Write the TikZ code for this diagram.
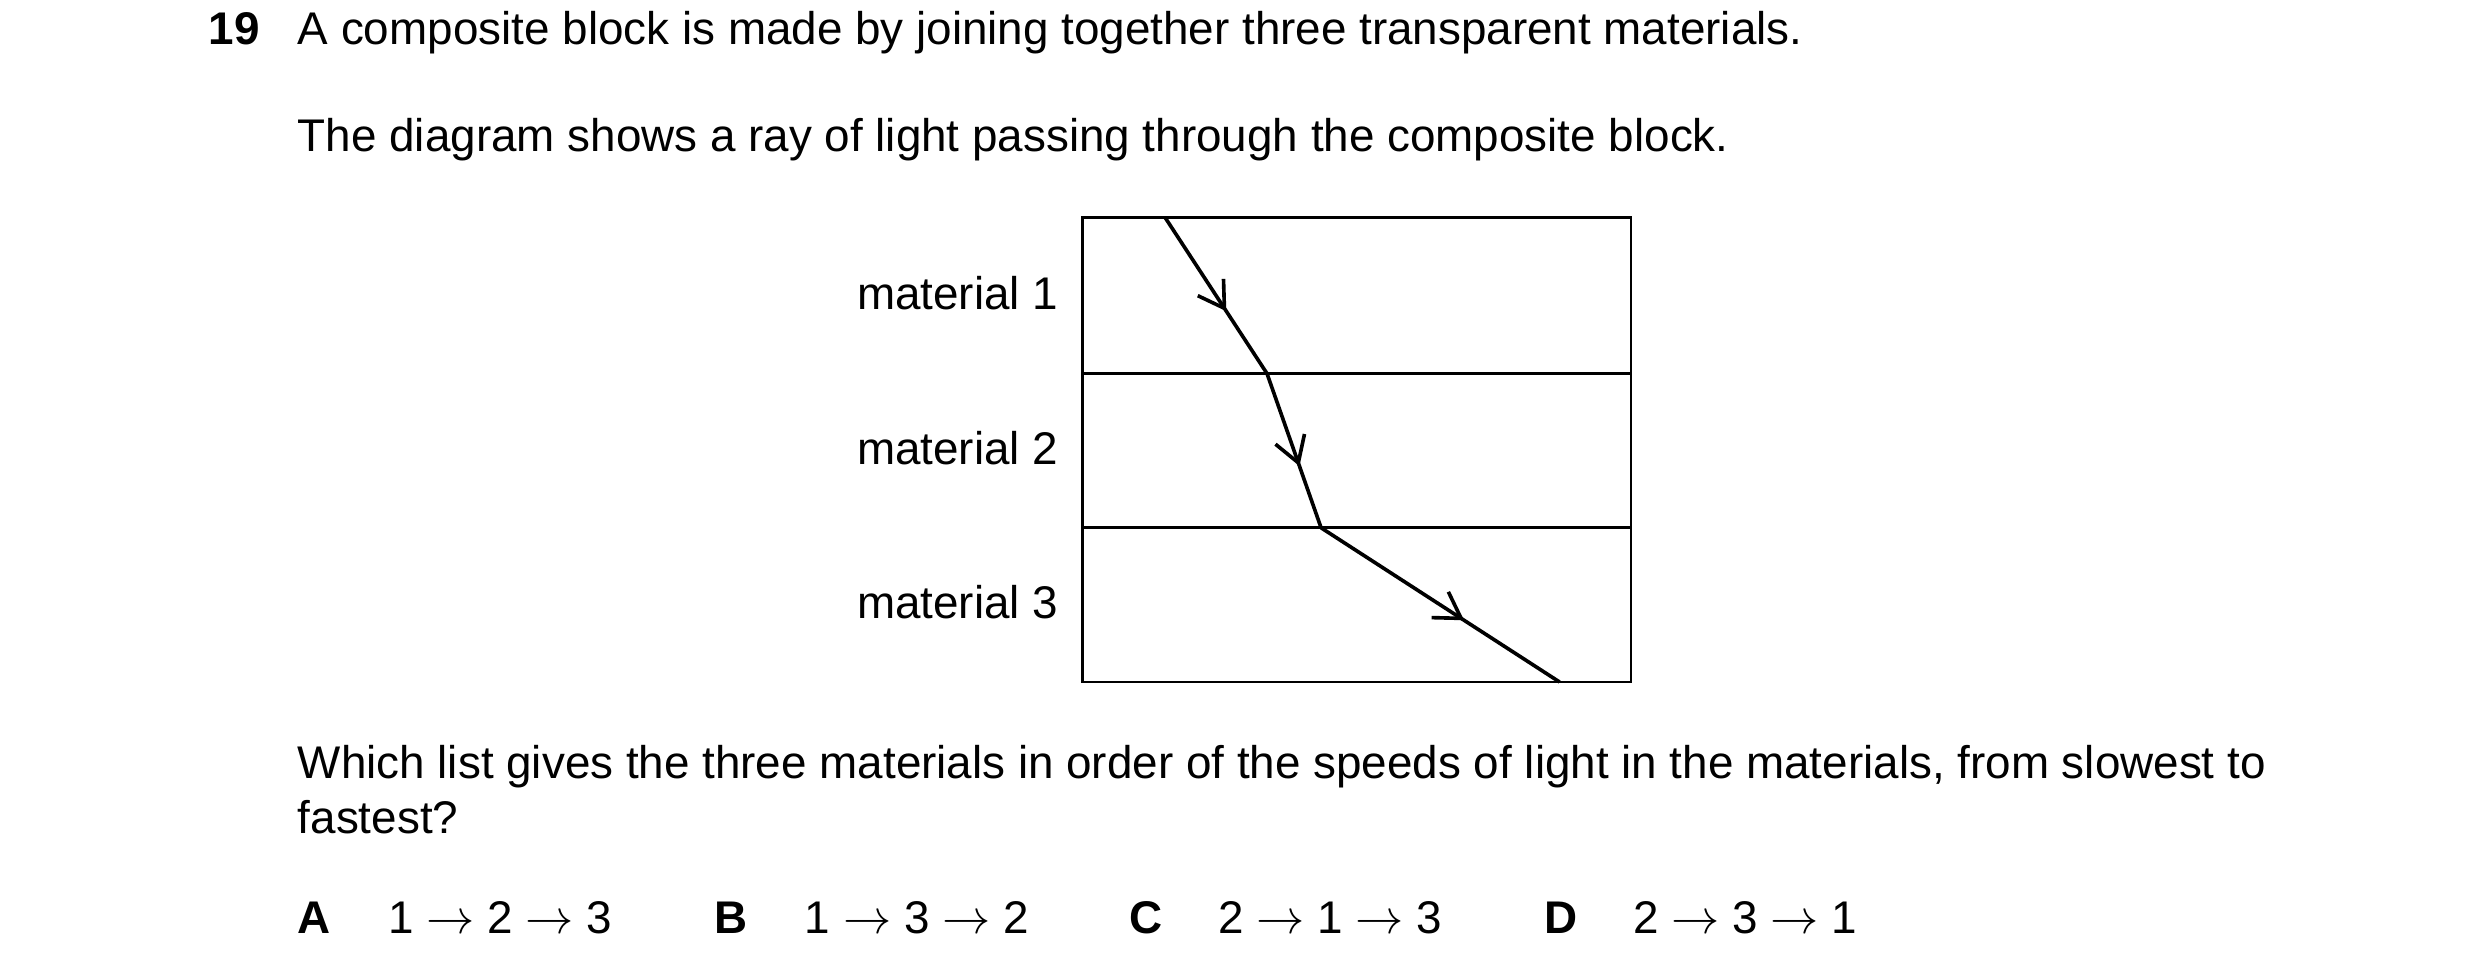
\documentclass[tikz,border=0pt]{standalone}
\usepackage{fontspec}
\setmainfont{Liberation Sans}
\usetikzlibrary{decorations.markings,arrows.meta}
\begin{document}
\begin{tikzpicture}[x=0.02cm,y=-0.02cm,
  txt/.style={anchor=base west,inner sep=0pt,font=\fontsize{16.4pt}{19pt}\selectfont},
  lab/.style={anchor=base east,inner sep=0pt,font=\fontsize{16.4pt}{19pt}\selectfont},
  ray/.style={line width=1.3pt,postaction={decorate},decoration={markings,mark=at position 0.6 with {\arrow{Straight Barb[length=9pt,width=11pt,line width=1.3pt]}}}}]
\useasboundingbox (0,0) rectangle (1560,611);
\node[txt,font=\fontsize{16.4pt}{19pt}\selectfont\bfseries] (n) at (131,28) {19};
\node[txt] (t1) at (187,28) {A composite block is made by joining together three transparent materials.};
\node[txt] (t2) at (187,95) {The diagram shows a ray of light passing through the composite block.};
\draw[line width=1pt] (681,137) rectangle (1026,429);
\draw[line width=1pt] (681,235) -- (1026,235);
\draw[line width=1pt] (681,332) -- (1026,332);
\node[lab] (m1) at (666,195) {material 1};
\node[lab] (m2) at (666,292) {material 2};
\node[lab] (m3) at (666,389) {material 3};
\coordinate (p0) at (733,137);
\coordinate (p1) at (797,235);
\coordinate (p2) at (831,332);
\coordinate (p3) at (981,429);
\draw[ray] (p0) -- (p1);
\draw[ray] (p1) -- (p2);
\draw[ray] (p2) -- (p3);
\node[txt] (q1) at (187,490) {Which list gives the three materials in order of the speeds of light in the materials, from slowest to};
\node[txt] (q2) at (187,524) {fastest?};
\node[txt,font=\fontsize{16.4pt}{19pt}\selectfont\bfseries] (A) at (187,587) {A};
\node[txt] (a) at (244,587) {1\;$\rightarrow$\;2\;$\rightarrow$\;3};
\node[txt,font=\fontsize{16.4pt}{19pt}\selectfont\bfseries] (B) at (449,587) {B};
\node[txt] (b) at (506,587) {1\;$\rightarrow$\;3\;$\rightarrow$\;2};
\node[txt,font=\fontsize{16.4pt}{19pt}\selectfont\bfseries] (C) at (710,587) {C};
\node[txt] (c) at (766,587) {2\;$\rightarrow$\;1\;$\rightarrow$\;3};
\node[txt,font=\fontsize{16.4pt}{19pt}\selectfont\bfseries] (D) at (971,587) {D};
\node[txt] (d) at (1027,587) {2\;$\rightarrow$\;3\;$\rightarrow$\;1};
\end{tikzpicture}
\end{document}
